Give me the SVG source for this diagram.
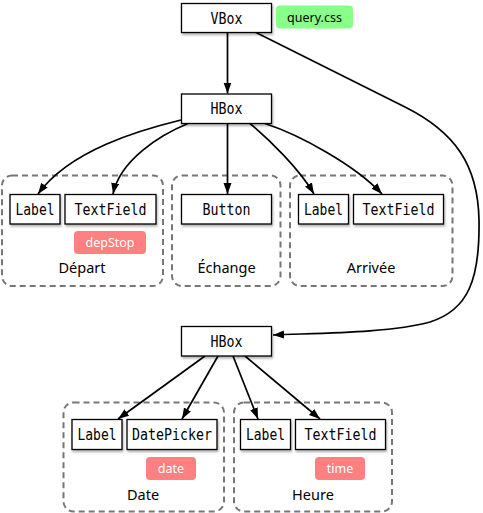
<svg xmlns="http://www.w3.org/2000/svg" width="483" height="513" viewBox="0 0 483 513">
<style>
.node rect.b{fill:#fff;stroke:#000;stroke-width:1.3;filter:url(#sh)}
.node text{font-family:"DejaVu Sans Mono","Liberation Mono",monospace;font-size:15.5px;text-anchor:middle;fill:#000}
.grp rect{fill:none;stroke:#777;stroke-width:2;stroke-dasharray:6,4}
.grp text{font-family:"Noto Sans","DejaVu Sans",sans-serif;font-size:14.5px;text-anchor:middle;fill:#000}
.pill text{font-family:"Noto Sans","DejaVu Sans",sans-serif;font-size:12.5px;text-anchor:middle}
.red rect{fill:#ff8080}
.red text{fill:#fff}
.green rect{fill:#88ff88}
.green text{fill:#000}
.edges path{fill:none;stroke:#000;stroke-width:1.7;marker-end:url(#ah)}
</style>
<defs>
<filter id="sh" x="-20%" y="-30%" width="140%" height="170%">
<feDropShadow dx="1" dy="2" stdDeviation="1.3" flood-color="#000" flood-opacity="0.3"/>
</filter>
<marker id="ah" markerUnits="userSpaceOnUse" markerWidth="12" markerHeight="9" refX="11" refY="4" orient="auto">
<path d="M0,0 L11,4 L0,8 z" fill="#000"/>
</marker>
</defs>
<rect width="483" height="513" fill="#fff"/>

<g id="grp-depart" class="grp"><rect x="2" y="175.5" width="161" height="110.5" rx="10"/><text x="82" y="273">Départ</text></g>
<g id="grp-echange" class="grp"><rect x="172" y="175.5" width="108.5" height="110.5" rx="10"/><text x="226.5" y="273">Échange</text></g>
<g id="grp-arrivee" class="grp"><rect x="290" y="175.5" width="162.5" height="110.5" rx="10"/><text x="371" y="273">Arrivée</text></g>
<g id="grp-date" class="grp"><rect x="63.5" y="402.5" width="160.5" height="109" rx="10"/><text x="143" y="500">Date</text></g>
<g id="grp-heure" class="grp"><rect x="234" y="402.5" width="158" height="109" rx="10"/><text x="313" y="500">Heure</text></g>

<g class="edges" id="edges">
<path d="M227.5,32.5 L227.5,93.5"/>
<path d="M181,120 C140,130 70,150 38,194"/>
<path d="M188,123.5 C160,135 120,160 113,194"/>
<path d="M227.5,123.5 L227.5,194"/>
<path d="M250,123.5 C270,140 300,170 314,194"/>
<path d="M265,123.5 C300,135 355,165 382,194"/>
<path d="M255,32 L405,107 C455,132 478,165 479,220 C480,280 468,310 430,322 C390,333 320,333 273,335"/>
<path d="M205,356 L118,419"/>
<path d="M218,356 L182,419"/>
<path d="M233,356 L258,419"/>
<path d="M245,356 L320,419"/>
</g>

<g id="vbox" class="node"><rect class="b" x="181.5" y="3.5" width="90" height="29"/><text x="226.5" y="23.5" textLength="32" lengthAdjust="spacingAndGlyphs">VBox</text></g>
<g id="querycss" class="pill green"><rect x="276" y="5.5" width="77" height="23" rx="4"/><text x="314.5" y="21.5">query.css</text></g>
<g id="hbox1" class="node"><rect class="b" x="181.5" y="94" width="90" height="29.5"/><text x="226.5" y="114" textLength="32" lengthAdjust="spacingAndGlyphs">HBox</text></g>

<g id="label1" class="node"><rect class="b" x="10" y="194.5" width="50" height="29.5"/><text x="35" y="214.5" textLength="39" lengthAdjust="spacingAndGlyphs">Label</text></g>
<g id="textfield1" class="node"><rect class="b" x="65" y="194.5" width="91" height="29.5"/><text x="110.5" y="214.5" textLength="72" lengthAdjust="spacingAndGlyphs">TextField</text></g>
<g id="depstop" class="pill red"><rect x="74" y="231" width="72" height="23" rx="4"/><text x="110" y="246.5">depStop</text></g>

<g id="button" class="node"><rect class="b" x="181.5" y="194.5" width="90" height="29.5"/><text x="226.5" y="214.5" textLength="48" lengthAdjust="spacingAndGlyphs">Button</text></g>

<g id="label2" class="node"><rect class="b" x="298.5" y="194.5" width="50" height="29.5"/><text x="323.5" y="214.5" textLength="39" lengthAdjust="spacingAndGlyphs">Label</text></g>
<g id="textfield2" class="node"><rect class="b" x="353.5" y="194.5" width="90" height="29.5"/><text x="398.5" y="214.5" textLength="72" lengthAdjust="spacingAndGlyphs">TextField</text></g>

<g id="hbox2" class="node"><rect class="b" x="181.5" y="326.5" width="90" height="29.5"/><text x="226.5" y="346.5" textLength="32" lengthAdjust="spacingAndGlyphs">HBox</text></g>

<g id="label3" class="node"><rect class="b" x="72" y="419.5" width="50" height="30"/><text x="97" y="440" textLength="39" lengthAdjust="spacingAndGlyphs">Label</text></g>
<g id="datepicker" class="node"><rect class="b" x="127" y="419.5" width="90" height="30"/><text x="172" y="440" textLength="80" lengthAdjust="spacingAndGlyphs">DatePicker</text></g>
<g id="date" class="pill red"><rect x="146" y="457" width="50" height="23" rx="4"/><text x="171" y="472.5">date</text></g>

<g id="label4" class="node"><rect class="b" x="240.5" y="419.5" width="50" height="30"/><text x="265.5" y="440" textLength="39" lengthAdjust="spacingAndGlyphs">Label</text></g>
<g id="textfield4" class="node"><rect class="b" x="295.5" y="419.5" width="90" height="30"/><text x="340.5" y="440" textLength="72" lengthAdjust="spacingAndGlyphs">TextField</text></g>
<g id="time" class="pill red"><rect x="315" y="457" width="50" height="23" rx="4"/><text x="340" y="472.5">time</text></g>
</svg>
